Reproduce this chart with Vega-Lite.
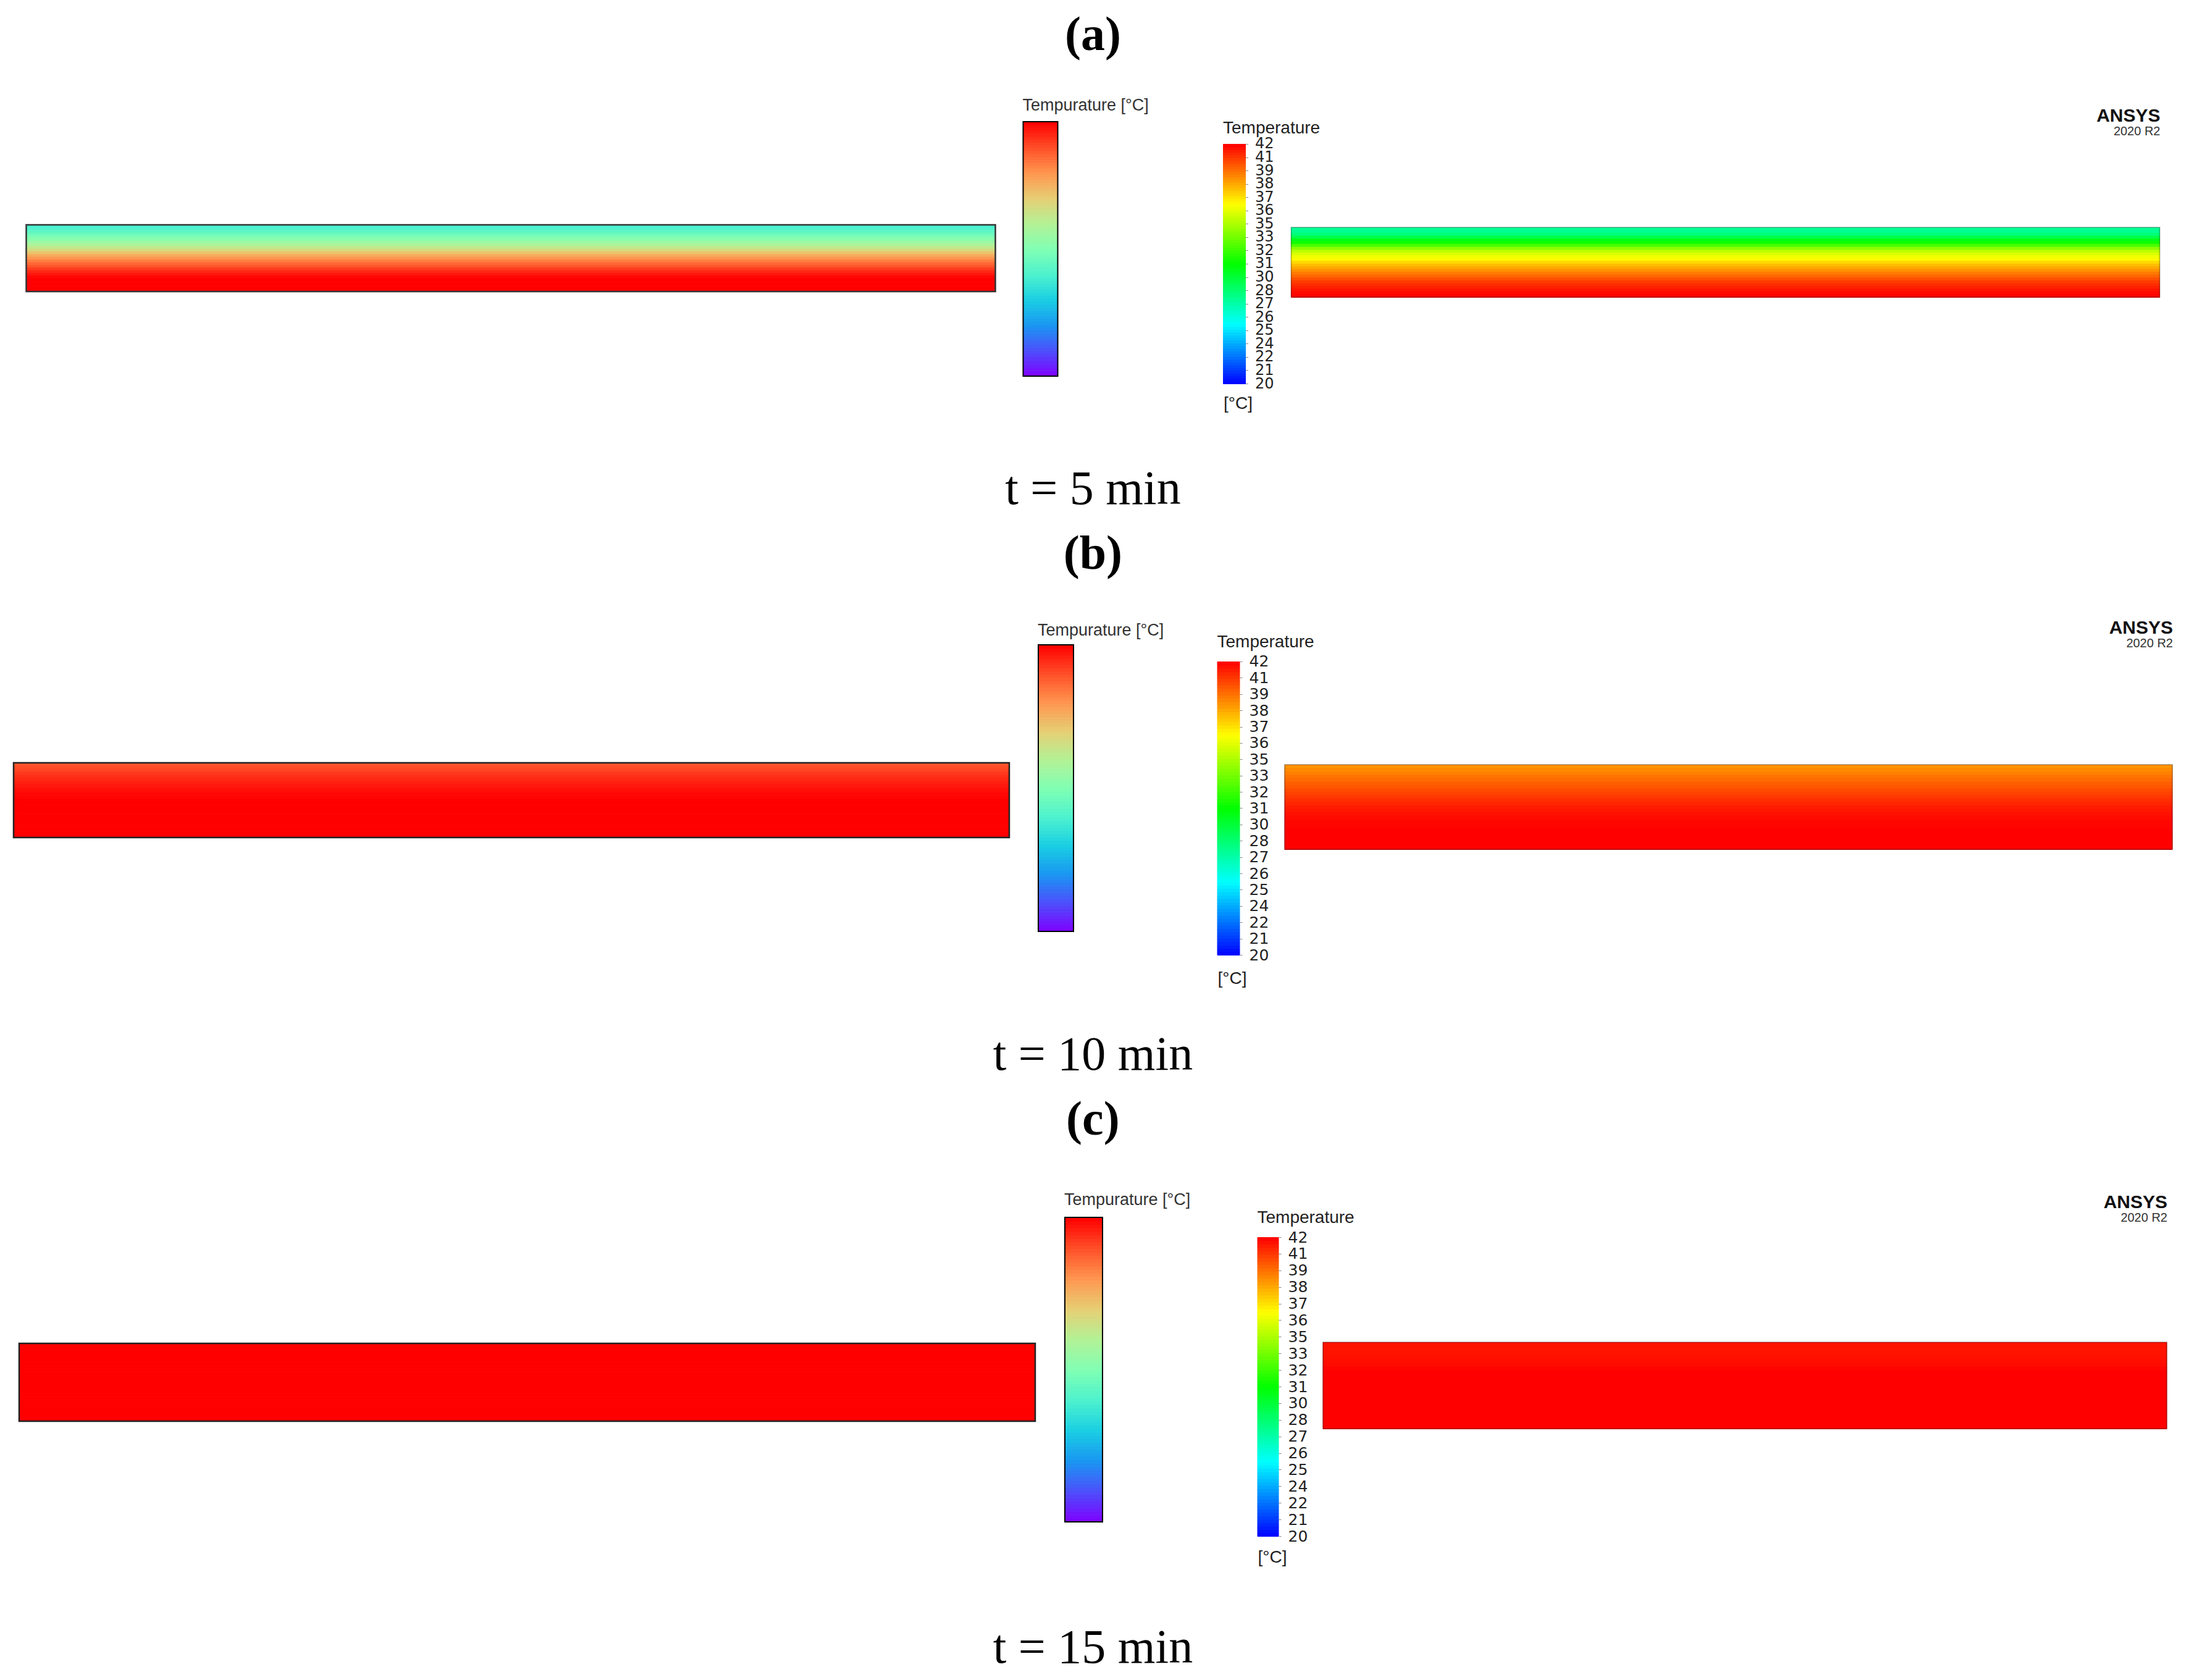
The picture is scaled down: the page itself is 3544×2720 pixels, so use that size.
{
"$schema": "https://vega.github.io/schema/vega-lite/v6.json",
"background": "white",
"padding": {"left": 20, "top": 19, "right": 10, "bottom": 10},
"center": true,
"spacing": 27,
"datasets": {
"cbar": [
{"t":20.125},{"t":20.375},{"t":20.625},{"t":20.875},{"t":21.125},{"t":21.375},{"t":21.625},{"t":21.875},
{"t":22.125},{"t":22.375},{"t":22.625},{"t":22.875},{"t":23.125},{"t":23.375},{"t":23.625},{"t":23.875},
{"t":24.125},{"t":24.375},{"t":24.625},{"t":24.875},{"t":25.125},{"t":25.375},{"t":25.625},{"t":25.875},
{"t":26.125},{"t":26.375},{"t":26.625},{"t":26.875},{"t":27.125},{"t":27.375},{"t":27.625},{"t":27.875},
{"t":28.125},{"t":28.375},{"t":28.625},{"t":28.875},{"t":29.125},{"t":29.375},{"t":29.625},{"t":29.875},
{"t":30.125},{"t":30.375},{"t":30.625},{"t":30.875},{"t":31.125},{"t":31.375},{"t":31.625},{"t":31.875},
{"t":32.125},{"t":32.375},{"t":32.625},{"t":32.875},{"t":33.125},{"t":33.375},{"t":33.625},{"t":33.875},
{"t":34.125},{"t":34.375},{"t":34.625},{"t":34.875},{"t":35.125},{"t":35.375},{"t":35.625},{"t":35.875},
{"t":36.125},{"t":36.375},{"t":36.625},{"t":36.875},{"t":37.125},{"t":37.375},{"t":37.625},{"t":37.875},
{"t":38.125},{"t":38.375},{"t":38.625},{"t":38.875},{"t":39.125},{"t":39.375},{"t":39.625},{"t":39.875},
{"t":40.125},{"t":40.375},{"t":40.625},{"t":40.875},{"t":41.125},{"t":41.375},{"t":41.625},{"t":41.875}
],
"strips": [
{"panel":"a","source":"model","h":0.98,"T":28.6},{"panel":"a","source":"model","h":0.94,"T":29.0},{"panel":"a","source":"model","h":0.90,"T":29.6},{"panel":"a","source":"model","h":0.86,"T":30.2},{"panel":"a","source":"model","h":0.82,"T":30.9},
{"panel":"a","source":"model","h":0.78,"T":31.5},{"panel":"a","source":"model","h":0.74,"T":32.2},{"panel":"a","source":"model","h":0.70,"T":33.0},{"panel":"a","source":"model","h":0.66,"T":33.8},{"panel":"a","source":"model","h":0.62,"T":34.8},
{"panel":"a","source":"model","h":0.58,"T":35.8},{"panel":"a","source":"model","h":0.54,"T":36.8},{"panel":"a","source":"model","h":0.50,"T":37.6},{"panel":"a","source":"model","h":0.46,"T":38.3},{"panel":"a","source":"model","h":0.42,"T":39.0},
{"panel":"a","source":"model","h":0.38,"T":39.6},{"panel":"a","source":"model","h":0.34,"T":40.3},{"panel":"a","source":"model","h":0.30,"T":40.9},{"panel":"a","source":"model","h":0.26,"T":41.4},{"panel":"a","source":"model","h":0.22,"T":41.8},
{"panel":"a","source":"model","h":0.18,"T":42},{"panel":"a","source":"model","h":0.14,"T":42},{"panel":"a","source":"model","h":0.10,"T":42},{"panel":"a","source":"model","h":0.06,"T":42},{"panel":"a","source":"model","h":0.02,"T":42},
{"panel":"a","source":"ansys","h":0.98,"T":27.8},{"panel":"a","source":"ansys","h":0.94,"T":27.9},{"panel":"a","source":"ansys","h":0.90,"T":28.4},{"panel":"a","source":"ansys","h":0.86,"T":29.4},{"panel":"a","source":"ansys","h":0.82,"T":30.5},
{"panel":"a","source":"ansys","h":0.78,"T":31.4},{"panel":"a","source":"ansys","h":0.74,"T":32.6},{"panel":"a","source":"ansys","h":0.70,"T":34.0},{"panel":"a","source":"ansys","h":0.66,"T":35.0},{"panel":"a","source":"ansys","h":0.62,"T":35.7},
{"panel":"a","source":"ansys","h":0.58,"T":36.2},{"panel":"a","source":"ansys","h":0.54,"T":36.6},{"panel":"a","source":"ansys","h":0.50,"T":37.3},{"panel":"a","source":"ansys","h":0.46,"T":37.9},{"panel":"a","source":"ansys","h":0.42,"T":38.4},
{"panel":"a","source":"ansys","h":0.38,"T":38.9},{"panel":"a","source":"ansys","h":0.34,"T":39.4},{"panel":"a","source":"ansys","h":0.30,"T":39.8},{"panel":"a","source":"ansys","h":0.26,"T":40.3},{"panel":"a","source":"ansys","h":0.22,"T":40.7},
{"panel":"a","source":"ansys","h":0.18,"T":41.0},{"panel":"a","source":"ansys","h":0.14,"T":41.3},{"panel":"a","source":"ansys","h":0.10,"T":41.6},{"panel":"a","source":"ansys","h":0.06,"T":41.8},{"panel":"a","source":"ansys","h":0.02,"T":41.9},
{"panel":"b","source":"model","h":0.98,"T":39.6},{"panel":"b","source":"model","h":0.94,"T":39.9},{"panel":"b","source":"model","h":0.90,"T":40.1},{"panel":"b","source":"model","h":0.86,"T":40.4},{"panel":"b","source":"model","h":0.82,"T":40.7},
{"panel":"b","source":"model","h":0.78,"T":40.9},{"panel":"b","source":"model","h":0.74,"T":41.1},{"panel":"b","source":"model","h":0.70,"T":41.3},{"panel":"b","source":"model","h":0.66,"T":41.5},{"panel":"b","source":"model","h":0.62,"T":41.65},
{"panel":"b","source":"model","h":0.58,"T":41.8},{"panel":"b","source":"model","h":0.54,"T":41.9},{"panel":"b","source":"model","h":0.50,"T":42},{"panel":"b","source":"model","h":0.46,"T":42},{"panel":"b","source":"model","h":0.42,"T":42},
{"panel":"b","source":"model","h":0.38,"T":42},{"panel":"b","source":"model","h":0.34,"T":42},{"panel":"b","source":"model","h":0.30,"T":42},{"panel":"b","source":"model","h":0.26,"T":42},{"panel":"b","source":"model","h":0.22,"T":42},
{"panel":"b","source":"model","h":0.18,"T":42},{"panel":"b","source":"model","h":0.14,"T":42},{"panel":"b","source":"model","h":0.10,"T":42},{"panel":"b","source":"model","h":0.06,"T":42},{"panel":"b","source":"model","h":0.02,"T":42},
{"panel":"b","source":"ansys","h":0.98,"T":38.8},{"panel":"b","source":"ansys","h":0.94,"T":39.05},{"panel":"b","source":"ansys","h":0.90,"T":39.25},{"panel":"b","source":"ansys","h":0.86,"T":39.5},{"panel":"b","source":"ansys","h":0.82,"T":39.7},
{"panel":"b","source":"ansys","h":0.78,"T":39.95},{"panel":"b","source":"ansys","h":0.74,"T":40.15},{"panel":"b","source":"ansys","h":0.70,"T":40.4},{"panel":"b","source":"ansys","h":0.66,"T":40.6},{"panel":"b","source":"ansys","h":0.62,"T":40.8},
{"panel":"b","source":"ansys","h":0.58,"T":41.0},{"panel":"b","source":"ansys","h":0.54,"T":41.2},{"panel":"b","source":"ansys","h":0.50,"T":41.4},{"panel":"b","source":"ansys","h":0.46,"T":41.5},{"panel":"b","source":"ansys","h":0.42,"T":41.65},
{"panel":"b","source":"ansys","h":0.38,"T":41.75},{"panel":"b","source":"ansys","h":0.34,"T":41.85},{"panel":"b","source":"ansys","h":0.30,"T":41.9},{"panel":"b","source":"ansys","h":0.26,"T":41.95},{"panel":"b","source":"ansys","h":0.22,"T":42},
{"panel":"b","source":"ansys","h":0.18,"T":42},{"panel":"b","source":"ansys","h":0.14,"T":42},{"panel":"b","source":"ansys","h":0.10,"T":42},{"panel":"b","source":"ansys","h":0.06,"T":42},{"panel":"b","source":"ansys","h":0.02,"T":42},
{"panel":"c","source":"model","h":0.98,"T":42},{"panel":"c","source":"model","h":0.94,"T":42},{"panel":"c","source":"model","h":0.90,"T":42},{"panel":"c","source":"model","h":0.86,"T":42},{"panel":"c","source":"model","h":0.82,"T":42},
{"panel":"c","source":"model","h":0.78,"T":42},{"panel":"c","source":"model","h":0.74,"T":42},{"panel":"c","source":"model","h":0.70,"T":42},{"panel":"c","source":"model","h":0.66,"T":42},{"panel":"c","source":"model","h":0.62,"T":42},
{"panel":"c","source":"model","h":0.58,"T":42},{"panel":"c","source":"model","h":0.54,"T":42},{"panel":"c","source":"model","h":0.50,"T":42},{"panel":"c","source":"model","h":0.46,"T":42},{"panel":"c","source":"model","h":0.42,"T":42},
{"panel":"c","source":"model","h":0.38,"T":42},{"panel":"c","source":"model","h":0.34,"T":42},{"panel":"c","source":"model","h":0.30,"T":42},{"panel":"c","source":"model","h":0.26,"T":42},{"panel":"c","source":"model","h":0.22,"T":42},
{"panel":"c","source":"model","h":0.18,"T":42},{"panel":"c","source":"model","h":0.14,"T":42},{"panel":"c","source":"model","h":0.10,"T":42},{"panel":"c","source":"model","h":0.06,"T":42},{"panel":"c","source":"model","h":0.02,"T":42},
{"panel":"c","source":"ansys","h":0.98,"T":41.6},{"panel":"c","source":"ansys","h":0.94,"T":41.6},{"panel":"c","source":"ansys","h":0.90,"T":41.6},{"panel":"c","source":"ansys","h":0.86,"T":41.6},{"panel":"c","source":"ansys","h":0.82,"T":41.65},
{"panel":"c","source":"ansys","h":0.78,"T":41.7},{"panel":"c","source":"ansys","h":0.74,"T":41.75},{"panel":"c","source":"ansys","h":0.70,"T":41.9},{"panel":"c","source":"ansys","h":0.66,"T":42},{"panel":"c","source":"ansys","h":0.62,"T":42},
{"panel":"c","source":"ansys","h":0.58,"T":42},{"panel":"c","source":"ansys","h":0.54,"T":42},{"panel":"c","source":"ansys","h":0.50,"T":42},{"panel":"c","source":"ansys","h":0.46,"T":42},{"panel":"c","source":"ansys","h":0.42,"T":42},
{"panel":"c","source":"ansys","h":0.38,"T":42},{"panel":"c","source":"ansys","h":0.34,"T":42},{"panel":"c","source":"ansys","h":0.30,"T":42},{"panel":"c","source":"ansys","h":0.26,"T":42},{"panel":"c","source":"ansys","h":0.22,"T":42},
{"panel":"c","source":"ansys","h":0.18,"T":42},{"panel":"c","source":"ansys","h":0.14,"T":42},{"panel":"c","source":"ansys","h":0.10,"T":42},{"panel":"c","source":"ansys","h":0.06,"T":42},{"panel":"c","source":"ansys","h":0.02,"T":42}
]
},
"vconcat": [
{
"title": {"text": "(a)", "font": "Liberation Serif", "fontSize": 78, "fontWeight": "bold", "color": "#000", "anchor": "middle", "offset": 60},
"vconcat": [{
"title": {"text": "t = 5 min", "orient": "bottom", "font": "Liberation Serif", "fontSize": 78, "fontWeight": "normal", "color": "#000", "anchor": "middle", "offset": 87},
"bounds": "flush", "spacing": 45,
"resolve": {"scale": {"x": "independent", "y": "independent", "color": "independent", "stroke": "independent"}},
"hconcat": [
{"width": 1569, "height": 424,
"layer": [
{"data": {"name": "strips"}, "transform": [{"filter": "datum.panel === 'a' && datum.source === 'model'"}],
"mark": {"type": "rect", "strokeWidth": 1},
"encoding": {
"y": {"field": "h", "type": "quantitative", "bin": {"step": 0.04, "extent": [0, 1], "nice": false}, "scale": {"domain": [-1.3796, 2.5463], "nice": false, "zero": false}, "axis": null},
"color": {"field": "T", "type": "quantitative", "legend": null, "scale": {"type":"linear","domain":[20,22.2,24.4,26.6,28.8,31,33.2,35.4,37.6,39.8,42],"range":["#8000ff","#4d4ffc","#1a96f2","#1acee3","#4df2ce","#80ffb4","#b3f296","#e6ce74","#ff964f","#ff4f28","#ff0000"],"interpolate":"rgb"}},
"stroke": {"field": "T", "type": "quantitative", "legend": null, "scale": {"type":"linear","domain":[20,22.2,24.4,26.6,28.8,31,33.2,35.4,37.6,39.8,42],"range":["#8000ff","#4d4ffc","#1a96f2","#1acee3","#4df2ce","#80ffb4","#b3f296","#e6ce74","#ff964f","#ff4f28","#ff0000"],"interpolate":"rgb"}}
}},
{"data": {"values": [{}]}, "mark": {"type": "rect", "fillOpacity": 0, "stroke": "#333", "strokeWidth": 2.5},
"encoding": {"y": {"datum": 0, "type": "quantitative", "scale": {"domain": [-1.3796, 2.5463], "nice": false, "zero": false}, "axis": null}, "y2": {"datum": 1}}}
]},
{"width": 279, "height": 424,
"title": {"text": "Tempurature [°C]", "anchor": "start", "font": "Liberation Sans", "fontSize": 27, "fontWeight": "normal", "color": "#333", "offset": 11},
"layer": [
{"data": {"name": "cbar"}, "mark": {"type": "rect", "strokeWidth": 1},
"encoding": {
"x": {"datum": 0, "type": "quantitative", "scale": {"domain": [0, 4.9821], "nice": false, "zero": false}, "axis": null},
"x2": {"datum": 1},
"y": {"field": "t", "type": "quantitative", "bin": {"step": 0.25, "extent": [20, 42], "nice": false}, "scale": {"domain": [19.359, 42], "nice": false, "zero": false},
 "axis": {"orient": "right", "offset": -223, "values": [20,22,24,26,28,30,32,34,36,38,40,42], "format": "d", "title": null, "domain": false, "tickSize": 4, "tickColor": "#000", "tickWidth": 1.5, "labelFont": "DejaVu Sans", "labelFontSize": 21, "labelFontWeight": "bold", "labelColor": "#000", "labelPadding": 4, "labelOverlap": false, "labelFlush": false, "labelBound": false, "grid": false}},
"color": {"field": "t", "type": "quantitative", "legend": null, "scale": {"type":"linear","domain":[20,22.2,24.4,26.6,28.8,31,33.2,35.4,37.6,39.8,42],"range":["#8000ff","#4d4ffc","#1a96f2","#1acee3","#4df2ce","#80ffb4","#b3f296","#e6ce74","#ff964f","#ff4f28","#ff0000"],"interpolate":"rgb"}},
"stroke": {"field": "t", "type": "quantitative", "legend": null, "scale": {"type":"linear","domain":[20,22.2,24.4,26.6,28.8,31,33.2,35.4,37.6,39.8,42],"range":["#8000ff","#4d4ffc","#1a96f2","#1acee3","#4df2ce","#80ffb4","#b3f296","#e6ce74","#ff964f","#ff4f28","#ff0000"],"interpolate":"rgb"}}
}},
{"data": {"values": [{}]}, "mark": {"type": "rect", "fillOpacity": 0, "stroke": "#000", "strokeWidth": 2},
"encoding": {"x": {"datum": 0, "type": "quantitative", "scale": {"domain": [0, 4.9821], "nice": false, "zero": false}, "axis": null}, "x2": {"datum": 1},
"y": {"datum": 20, "type": "quantitative", "scale": {"domain": [19.359, 42], "nice": false, "zero": false}, "axis": null}, "y2": {"datum": 42}}}
]},
{"width": 36, "height": 424,
"title": {"text": "Temperature", "anchor": "start", "font": "Liberation Sans", "fontSize": 28, "fontWeight": "normal", "color": "#222", "offset": 0, "dy": 25},
"data": {"name": "cbar"}, "mark": {"type": "rect", "strokeWidth": 1},
"encoding": {
"x": {"datum": 0, "type": "quantitative", "scale": {"domain": [0, 1], "nice": false, "zero": false},
 "axis": {"orient": "bottom", "title": "[°C]", "titleAnchor": "start", "titleAlign": "left", "titleFont": "Liberation Sans", "titleFontSize": 28, "titleFontWeight": "normal", "titleColor": "#222", "titlePadding": 18, "labels": false, "ticks": false, "domain": false, "grid": false}},
"x2": {"datum": 1},
"y": {"field": "t", "type": "quantitative", "bin": {"step": 0.25, "extent": [20, 42], "nice": false}, "scale": {"domain": [20, 44.041], "nice": false, "zero": false},
 "axis": {"orient": "right", "values": [20,21.2222,22.4444,23.6667,24.8889,26.1111,27.3333,28.5556,29.7778,31,32.2222,33.4444,34.6667,35.8889,37.1111,38.3333,39.5556,40.7778,42], "labelExpr": "['20','21','22','24','25','26','27','28','30','31','32','33','35','36','37','38','39','41','42'][round((datum.value-20)*18/22)]", "title": null, "domain": false, "tickSize": 4, "tickColor": "#888", "labelFont": "DejaVu Sans", "labelFontSize": 24, "labelColor": "#222", "labelPadding": 11, "labelOverlap": false, "labelFlush": false, "labelBound": false, "grid": false}},
"color": {"field": "t", "type": "quantitative", "legend": null, "scale": {"type":"linear","domain":[20,25.5,31,36.5,42],"range":["#0000ff","#00ffff","#00ff00","#ffff00","#ff0000"],"interpolate":"rgb"}},
"stroke": {"field": "t", "type": "quantitative", "legend": null, "scale": {"type":"linear","domain":[20,25.5,31,36.5,42],"range":["#0000ff","#00ffff","#00ff00","#ffff00","#ff0000"],"interpolate":"rgb"}}
}},
{"width": 1435, "height": 424,
"title": {"text": "ANSYS", "subtitle": "2020 R2", "anchor": "end", "font": "'Liberation Sans Narrow', 'Liberation Sans', sans-serif", "fontSize": 30, "fontWeight": "bold", "color": "#111", "subtitleFont": "Liberation Sans", "subtitleFontSize": 20, "subtitleColor": "#333", "subtitlePadding": 0, "offset": 0, "dy": 26},
"layer": [
{"data": {"name": "strips"}, "transform": [{"filter": "datum.panel === 'a' && datum.source === 'ansys'"}],
"mark": {"type": "rect", "strokeWidth": 1},
"encoding": {
"x": {"datum": 0, "type": "quantitative", "scale": {"domain": [-0.020626, 1], "nice": false, "zero": false}, "axis": null},
"x2": {"datum": 1},
"y": {"field": "h", "type": "quantitative", "bin": {"step": 0.04, "extent": [0, 1], "nice": false}, "scale": {"domain": [-1.2389, 2.5133], "nice": false, "zero": false}, "axis": null},
"color": {"field": "T", "type": "quantitative", "legend": null, "scale": {"type":"linear","domain":[20,25.5,31,36.5,42],"range":["#0000ff","#00ffff","#00ff00","#ffff00","#ff0000"],"interpolate":"rgb"}},
"stroke": {"field": "T", "type": "quantitative", "legend": null, "scale": {"type":"linear","domain":[20,25.5,31,36.5,42],"range":["#0000ff","#00ffff","#00ff00","#ffff00","#ff0000"],"interpolate":"rgb"}}
}},
{"data": {"values": [{}]}, "mark": {"type": "rect", "fillOpacity": 0, "stroke": "#000", "strokeOpacity": 0.25, "strokeWidth": 2},
"encoding": {"x": {"datum": 0, "type": "quantitative", "scale": {"domain": [-0.020626, 1], "nice": false, "zero": false}, "axis": null}, "x2": {"datum": 1},
"y": {"datum": 0, "type": "quantitative", "scale": {"domain": [-1.2389, 2.5133], "nice": false, "zero": false}, "axis": null}, "y2": {"datum": 1}}}
]}
]
}]
},
{
"title": {"text": "(b)", "font": "Liberation Serif", "fontSize": 78, "fontWeight": "bold", "color": "#000", "anchor": "middle", "offset": 65},
"vconcat": [{
"title": {"text": "t = 10 min", "orient": "bottom", "font": "Liberation Serif", "fontSize": 78, "fontWeight": "normal", "color": "#000", "anchor": "middle", "offset": 72},
"bounds": "flush", "spacing": 47,
"resolve": {"scale": {"x": "independent", "y": "independent", "color": "independent", "stroke": "independent"}},
"hconcat": [
{"width": 1612, "height": 502,
"layer": [
{"data": {"name": "strips"}, "transform": [{"filter": "datum.panel === 'b' && datum.source === 'model'"}],
"mark": {"type": "rect", "strokeWidth": 1},
"encoding": {
"y": {"field": "h", "type": "quantitative", "bin": {"step": 0.04, "extent": [0, 1], "nice": false}, "scale": {"domain": [-1.5702, 2.5785], "nice": false, "zero": false}, "axis": null},
"color": {"field": "T", "type": "quantitative", "legend": null, "scale": {"type":"linear","domain":[20,22.2,24.4,26.6,28.8,31,33.2,35.4,37.6,39.8,42],"range":["#8000ff","#4d4ffc","#1a96f2","#1acee3","#4df2ce","#80ffb4","#b3f296","#e6ce74","#ff964f","#ff4f28","#ff0000"],"interpolate":"rgb"}},
"stroke": {"field": "T", "type": "quantitative", "legend": null, "scale": {"type":"linear","domain":[20,22.2,24.4,26.6,28.8,31,33.2,35.4,37.6,39.8,42],"range":["#8000ff","#4d4ffc","#1a96f2","#1acee3","#4df2ce","#80ffb4","#b3f296","#e6ce74","#ff964f","#ff4f28","#ff0000"],"interpolate":"rgb"}}
}},
{"data": {"values": [{}]}, "mark": {"type": "rect", "fillOpacity": 0, "stroke": "#222", "strokeWidth": 2.5},
"encoding": {"y": {"datum": 0, "type": "quantitative", "scale": {"domain": [-1.5702, 2.5785], "nice": false, "zero": false}, "axis": null}, "y2": {"datum": 1}}}
]},
{"width": 243, "height": 502,
"title": {"text": "Tempurature [°C]", "anchor": "start", "font": "Liberation Sans", "fontSize": 27, "fontWeight": "normal", "color": "#333", "offset": 8},
"layer": [
{"data": {"name": "cbar"}, "mark": {"type": "rect", "strokeWidth": 1},
"encoding": {
"x": {"datum": 0, "type": "quantitative", "scale": {"domain": [0, 4.2632], "nice": false, "zero": false}, "axis": null},
"x2": {"datum": 1},
"y": {"field": "t", "type": "quantitative", "bin": {"step": 0.25, "extent": [20, 42], "nice": false}, "scale": {"domain": [18.198, 42], "nice": false, "zero": false},
 "axis": {"orient": "right", "offset": -186, "values": [20,22,24,26,28,30,32,34,36,38,40,42], "format": "d", "title": null, "domain": false, "tickSize": 4, "tickColor": "#000", "tickWidth": 1.5, "labelFont": "DejaVu Sans", "labelFontSize": 22, "labelFontWeight": "bold", "labelColor": "#000", "labelPadding": 4, "labelOverlap": false, "labelFlush": false, "labelBound": false, "grid": false}},
"color": {"field": "t", "type": "quantitative", "legend": null, "scale": {"type":"linear","domain":[20,22.2,24.4,26.6,28.8,31,33.2,35.4,37.6,39.8,42],"range":["#8000ff","#4d4ffc","#1a96f2","#1acee3","#4df2ce","#80ffb4","#b3f296","#e6ce74","#ff964f","#ff4f28","#ff0000"],"interpolate":"rgb"}},
"stroke": {"field": "t", "type": "quantitative", "legend": null, "scale": {"type":"linear","domain":[20,22.2,24.4,26.6,28.8,31,33.2,35.4,37.6,39.8,42],"range":["#8000ff","#4d4ffc","#1a96f2","#1acee3","#4df2ce","#80ffb4","#b3f296","#e6ce74","#ff964f","#ff4f28","#ff0000"],"interpolate":"rgb"}}
}},
{"data": {"values": [{}]}, "mark": {"type": "rect", "fillOpacity": 0, "stroke": "#000", "strokeWidth": 2},
"encoding": {"x": {"datum": 0, "type": "quantitative", "scale": {"domain": [0, 4.2632], "nice": false, "zero": false}, "axis": null}, "x2": {"datum": 1},
"y": {"datum": 20, "type": "quantitative", "scale": {"domain": [18.198, 42], "nice": false, "zero": false}, "axis": null}, "y2": {"datum": 42}}}
]},
{"width": 36, "height": 502,
"title": {"text": "Temperature", "anchor": "start", "font": "Liberation Sans", "fontSize": 28, "fontWeight": "normal", "color": "#222", "offset": 0, "dy": 10},
"data": {"name": "cbar"}, "mark": {"type": "rect", "strokeWidth": 1},
"encoding": {
"x": {"datum": 0, "type": "quantitative", "scale": {"domain": [0, 1], "nice": false, "zero": false},
 "axis": {"orient": "bottom", "title": "[°C]", "titleAnchor": "start", "titleAlign": "left", "titleFont": "Liberation Sans", "titleFontSize": 28, "titleFontWeight": "normal", "titleColor": "#222", "titlePadding": 24, "labels": false, "ticks": false, "domain": false, "grid": false}},
"x2": {"datum": 1},
"y": {"field": "t", "type": "quantitative", "bin": {"step": 0.25, "extent": [20, 42], "nice": false}, "scale": {"domain": [20, 43.25], "nice": false, "zero": false},
 "axis": {"orient": "right", "values": [20,21.2222,22.4444,23.6667,24.8889,26.1111,27.3333,28.5556,29.7778,31,32.2222,33.4444,34.6667,35.8889,37.1111,38.3333,39.5556,40.7778,42], "labelExpr": "['20','21','22','24','25','26','27','28','30','31','32','33','35','36','37','38','39','41','42'][round((datum.value-20)*18/22)]", "title": null, "domain": false, "tickSize": 4, "tickColor": "#888", "labelFont": "DejaVu Sans", "labelFontSize": 25, "labelColor": "#222", "labelPadding": 11, "labelOverlap": false, "labelFlush": false, "labelBound": false, "grid": false}},
"color": {"field": "t", "type": "quantitative", "legend": null, "scale": {"type":"linear","domain":[20,25.5,31,36.5,42],"range":["#0000ff","#00ffff","#00ff00","#ffff00","#ff0000"],"interpolate":"rgb"}},
"stroke": {"field": "t", "type": "quantitative", "legend": null, "scale": {"type":"linear","domain":[20,25.5,31,36.5,42],"range":["#0000ff","#00ffff","#00ff00","#ffff00","#ff0000"],"interpolate":"rgb"}}
}},
{"width": 1463, "height": 502,
"title": {"text": "ANSYS", "subtitle": "2020 R2", "anchor": "end", "font": "'Liberation Sans Narrow', 'Liberation Sans', sans-serif", "fontSize": 30, "fontWeight": "bold", "color": "#111", "subtitleFont": "Liberation Sans", "subtitleFontSize": 20, "subtitleColor": "#333", "subtitlePadding": 0, "offset": 0, "dy": 8},
"layer": [
{"data": {"name": "strips"}, "transform": [{"filter": "datum.panel === 'b' && datum.source === 'ansys'"}],
"mark": {"type": "rect", "strokeWidth": 1},
"encoding": {
"x": {"datum": 0, "type": "quantitative", "scale": {"domain": [-0.018093, 1], "nice": false, "zero": false}, "axis": null},
"x2": {"datum": 1},
"y": {"field": "h", "type": "quantitative", "bin": {"step": 0.04, "extent": [0, 1], "nice": false}, "scale": {"domain": [-1.2482, 2.4161], "nice": false, "zero": false}, "axis": null},
"color": {"field": "T", "type": "quantitative", "legend": null, "scale": {"type":"linear","domain":[20,25.5,31,36.5,42],"range":["#0000ff","#00ffff","#00ff00","#ffff00","#ff0000"],"interpolate":"rgb"}},
"stroke": {"field": "T", "type": "quantitative", "legend": null, "scale": {"type":"linear","domain":[20,25.5,31,36.5,42],"range":["#0000ff","#00ffff","#00ff00","#ffff00","#ff0000"],"interpolate":"rgb"}}
}},
{"data": {"values": [{}]}, "mark": {"type": "rect", "fillOpacity": 0, "stroke": "#000", "strokeOpacity": 0.25, "strokeWidth": 2},
"encoding": {"x": {"datum": 0, "type": "quantitative", "scale": {"domain": [-0.018093, 1], "nice": false, "zero": false}, "axis": null}, "x2": {"datum": 1},
"y": {"datum": 0, "type": "quantitative", "scale": {"domain": [-1.2482, 2.4161], "nice": false, "zero": false}, "axis": null}, "y2": {"datum": 1}}}
]}
]
}]
},
{
"title": {"text": "(c)", "font": "Liberation Serif", "fontSize": 78, "fontWeight": "bold", "color": "#000", "anchor": "middle", "offset": 76},
"vconcat": [{
"title": {"text": "t = 15 min", "orient": "bottom", "font": "Liberation Serif", "fontSize": 78, "fontWeight": "normal", "color": "#000", "anchor": "middle", "offset": 95},
"bounds": "flush", "spacing": 48,
"resolve": {"scale": {"x": "independent", "y": "independent", "color": "independent", "stroke": "independent"}},
"hconcat": [
{"width": 1645, "height": 516,
"layer": [
{"data": {"name": "strips"}, "transform": [{"filter": "datum.panel === 'c' && datum.source === 'model'"}],
"mark": {"type": "rect", "strokeWidth": 1},
"encoding": {
"y": {"field": "h", "type": "quantitative", "bin": {"step": 0.04, "extent": [0, 1], "nice": false}, "scale": {"domain": [-1.4762, 2.619], "nice": false, "zero": false}, "axis": null},
"color": {"field": "T", "type": "quantitative", "legend": null, "scale": {"type":"linear","domain":[20,22.2,24.4,26.6,28.8,31,33.2,35.4,37.6,39.8,42],"range":["#8000ff","#4d4ffc","#1a96f2","#1acee3","#4df2ce","#80ffb4","#b3f296","#e6ce74","#ff964f","#ff4f28","#ff0000"],"interpolate":"rgb"}},
"stroke": {"field": "T", "type": "quantitative", "legend": null, "scale": {"type":"linear","domain":[20,22.2,24.4,26.6,28.8,31,33.2,35.4,37.6,39.8,42],"range":["#8000ff","#4d4ffc","#1a96f2","#1acee3","#4df2ce","#80ffb4","#b3f296","#e6ce74","#ff964f","#ff4f28","#ff0000"],"interpolate":"rgb"}}
}},
{"data": {"values": [{}]}, "mark": {"type": "rect", "fillOpacity": 0, "stroke": "#222", "strokeWidth": 2.5},
"encoding": {"y": {"datum": 0, "type": "quantitative", "scale": {"domain": [-1.4762, 2.619], "nice": false, "zero": false}, "axis": null}, "y2": {"datum": 1}}}
]},
{"width": 264, "height": 516,
"title": {"text": "Tempurature [°C]", "anchor": "start", "font": "Liberation Sans", "fontSize": 27, "fontWeight": "normal", "color": "#333", "offset": 13},
"layer": [
{"data": {"name": "cbar"}, "mark": {"type": "rect", "strokeWidth": 1},
"encoding": {
"x": {"datum": 0, "type": "quantitative", "scale": {"domain": [0, 4.3279], "nice": false, "zero": false}, "axis": null},
"x2": {"datum": 1},
"y": {"field": "t", "type": "quantitative", "bin": {"step": 0.25, "extent": [20, 42], "nice": false}, "scale": {"domain": [18.974, 42], "nice": false, "zero": false},
 "axis": {"orient": "right", "offset": -203, "values": [20,22,24,26,28,30,32,34,36,38,40,42], "format": "d", "title": null, "domain": false, "tickSize": 4, "tickColor": "#000", "tickWidth": 1.5, "labelFont": "DejaVu Sans", "labelFontSize": 22, "labelFontWeight": "bold", "labelColor": "#000", "labelPadding": 4, "labelOverlap": false, "labelFlush": false, "labelBound": false, "grid": false}},
"color": {"field": "t", "type": "quantitative", "legend": null, "scale": {"type":"linear","domain":[20,22.2,24.4,26.6,28.8,31,33.2,35.4,37.6,39.8,42],"range":["#8000ff","#4d4ffc","#1a96f2","#1acee3","#4df2ce","#80ffb4","#b3f296","#e6ce74","#ff964f","#ff4f28","#ff0000"],"interpolate":"rgb"}},
"stroke": {"field": "t", "type": "quantitative", "legend": null, "scale": {"type":"linear","domain":[20,22.2,24.4,26.6,28.8,31,33.2,35.4,37.6,39.8,42],"range":["#8000ff","#4d4ffc","#1a96f2","#1acee3","#4df2ce","#80ffb4","#b3f296","#e6ce74","#ff964f","#ff4f28","#ff0000"],"interpolate":"rgb"}}
}},
{"data": {"values": [{}]}, "mark": {"type": "rect", "fillOpacity": 0, "stroke": "#000", "strokeWidth": 2},
"encoding": {"x": {"datum": 0, "type": "quantitative", "scale": {"domain": [0, 4.3279], "nice": false, "zero": false}, "axis": null}, "x2": {"datum": 1},
"y": {"datum": 20, "type": "quantitative", "scale": {"domain": [18.974, 42], "nice": false, "zero": false}, "axis": null}, "y2": {"datum": 42}}}
]},
{"width": 34, "height": 516,
"title": {"text": "Temperature", "anchor": "start", "font": "Liberation Sans", "fontSize": 28, "fontWeight": "normal", "color": "#222", "offset": 0, "dy": 15},
"data": {"name": "cbar"}, "mark": {"type": "rect", "strokeWidth": 1},
"encoding": {
"x": {"datum": 0, "type": "quantitative", "scale": {"domain": [0, 1], "nice": false, "zero": false},
 "axis": {"orient": "bottom", "title": "[°C]", "titleAnchor": "start", "titleAlign": "left", "titleFont": "Liberation Sans", "titleFontSize": 28, "titleFontWeight": "normal", "titleColor": "#222", "titlePadding": 20, "labels": false, "ticks": false, "domain": false, "grid": false}},
"x2": {"datum": 1},
"y": {"field": "t", "type": "quantitative", "bin": {"step": 0.25, "extent": [20, 42], "nice": false}, "scale": {"domain": [20, 43.455], "nice": false, "zero": false},
 "axis": {"orient": "right", "values": [20,21.2222,22.4444,23.6667,24.8889,26.1111,27.3333,28.5556,29.7778,31,32.2222,33.4444,34.6667,35.8889,37.1111,38.3333,39.5556,40.7778,42], "labelExpr": "['20','21','22','24','25','26','27','28','30','31','32','33','35','36','37','38','39','41','42'][round((datum.value-20)*18/22)]", "title": null, "domain": false, "tickSize": 4, "tickColor": "#888", "labelFont": "DejaVu Sans", "labelFontSize": 25, "labelColor": "#222", "labelPadding": 11, "labelOverlap": false, "labelFlush": false, "labelBound": false, "grid": false}},
"color": {"field": "t", "type": "quantitative", "legend": null, "scale": {"type":"linear","domain":[20,25.5,31,36.5,42],"range":["#0000ff","#00ffff","#00ff00","#ffff00","#ff0000"],"interpolate":"rgb"}},
"stroke": {"field": "t", "type": "quantitative", "legend": null, "scale": {"type":"linear","domain":[20,25.5,31,36.5,42],"range":["#0000ff","#00ffff","#00ff00","#ffff00","#ff0000"],"interpolate":"rgb"}}
}},
{"width": 1390, "height": 516,
"title": {"text": "ANSYS", "subtitle": "2020 R2", "anchor": "end", "font": "'Liberation Sans Narrow', 'Liberation Sans', sans-serif", "fontSize": 30, "fontWeight": "bold", "color": "#111", "subtitleFont": "Liberation Sans", "subtitleFontSize": 20, "subtitleColor": "#333", "subtitlePadding": 0, "offset": 0, "dy": 11},
"layer": [
{"data": {"name": "strips"}, "transform": [{"filter": "datum.panel === 'c' && datum.source === 'ansys'"}],
"mark": {"type": "rect", "strokeWidth": 1},
"encoding": {
"x": {"datum": 0, "type": "quantitative", "scale": {"domain": [-0.01757, 1], "nice": false, "zero": false}, "axis": null},
"x2": {"datum": 1},
"y": {"field": "h", "type": "quantitative", "bin": {"step": 0.04, "extent": [0, 1], "nice": false}, "scale": {"domain": [-1.2429, 2.4429], "nice": false, "zero": false}, "axis": null},
"color": {"field": "T", "type": "quantitative", "legend": null, "scale": {"type":"linear","domain":[20,25.5,31,36.5,42],"range":["#0000ff","#00ffff","#00ff00","#ffff00","#ff0000"],"interpolate":"rgb"}},
"stroke": {"field": "T", "type": "quantitative", "legend": null, "scale": {"type":"linear","domain":[20,25.5,31,36.5,42],"range":["#0000ff","#00ffff","#00ff00","#ffff00","#ff0000"],"interpolate":"rgb"}}
}},
{"data": {"values": [{}]}, "mark": {"type": "rect", "fillOpacity": 0, "stroke": "#000", "strokeOpacity": 0.25, "strokeWidth": 2},
"encoding": {"x": {"datum": 0, "type": "quantitative", "scale": {"domain": [-0.01757, 1], "nice": false, "zero": false}, "axis": null}, "x2": {"datum": 1},
"y": {"datum": 0, "type": "quantitative", "scale": {"domain": [-1.2429, 2.4429], "nice": false, "zero": false}, "axis": null}, "y2": {"datum": 1}}}
]}
]
}]
}
],
"config": {"view": {"stroke": null}, "axis": {"grid": false}}
}
